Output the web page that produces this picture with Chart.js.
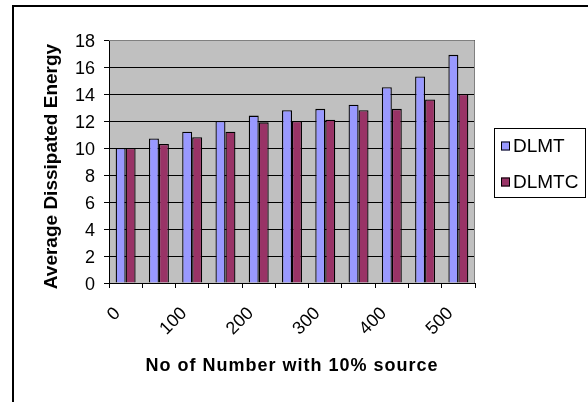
<!DOCTYPE html>
<html>
<head>
<meta charset="utf-8">
<script src="https://cdn.jsdelivr.net/npm/chart.js@4/dist/chart.umd.min.js"></script>
<style>
  html, body { margin: 0; padding: 0; background: #fff; }
  canvas { display: block; }
</style>
</head>
<body>
<canvas id="chart" width="588" height="402"></canvas>
<script>
// data
const categories = [0, 50, 100, 150, 200, 250, 300, 350, 400, 450, 500];
const dlmt = [10, 10.7, 11.2, 12, 12.4, 12.8, 12.9, 13.2, 14.5, 15.3, 16.9];
const dlmtc = [10, 10.3, 10.8, 11.2, 11.9, 12, 12.1, 12.8, 12.9, 13.6, 14];
const seriesNames = ["DLMT", "DLMTC"];
const yTicks = { min: 0, max: 18, step: 2 };

const FONT = "'Liberation Sans', Arial, sans-serif";

// outer frame, grey plot background, plot frame and the boxed legend on the right
const excelLook = {
  id: "excelLook",
  beforeDraw(chart) {
    const { ctx, chartArea: a } = chart;
    ctx.save();
    ctx.fillStyle = "#fff";
    ctx.fillRect(0, 0, chart.width, chart.height);
    ctx.fillStyle = "#000";
    ctx.fillRect(12, 5, 2, chart.height);
    ctx.fillRect(12, 5, chart.width - 12, 2);
    ctx.fillStyle = "#c0c0c0";
    ctx.fillRect(a.left, a.top, a.right - a.left, a.bottom - a.top);
    ctx.restore();
  },
  afterDraw(chart) {
    const { ctx, chartArea: a } = chart;
    ctx.save();
    ctx.strokeStyle = "#808080";
    ctx.lineWidth = 1;
    ctx.beginPath();
    ctx.moveTo(a.left, a.top + 0.5);
    ctx.lineTo(a.right - 0.5, a.top + 0.5);
    ctx.lineTo(a.right - 0.5, a.bottom);
    ctx.stroke();

    // legend
    const box = { x: 494, y: 128, w: 91, h: 69 };
    ctx.fillStyle = "#fff";
    ctx.fillRect(box.x, box.y, box.w, box.h);
    ctx.strokeStyle = "#000";
    ctx.strokeRect(box.x + 0.5, box.y + 0.5, box.w, box.h);
    ctx.font = "19px " + FONT;
    ctx.textBaseline = "middle";
    ctx.textAlign = "left";
    chart.data.datasets.forEach((ds, i) => {
      const cy = 146 + i * 36;
      ctx.fillStyle = ds.backgroundColor;
      ctx.fillRect(501, cy - 4.5, 9, 9);
      ctx.strokeStyle = "#000";
      ctx.strokeRect(501.5, cy - 4, 8, 8);
      ctx.fillStyle = "#000";
      ctx.fillText(ds.label, 513, cy + 1);
    });
    ctx.restore();
  }
};

const chart = new Chart(document.getElementById("chart"), {
  type: "bar",
  data: {
    labels: categories,
    datasets: [
      {
        label: seriesNames[0],
        data: dlmt,
        backgroundColor: "#9999ff",
        borderColor: "#000",
        borderWidth: 1.3,
        categoryPercentage: 0.6,
        barPercentage: 1.0,
      },
      {
        label: seriesNames[1],
        data: dlmtc,
        backgroundColor: "#993366",
        borderColor: "#000",
        borderWidth: 1.3,
        categoryPercentage: 0.6,
        barPercentage: 1.0,
      },
    ],
  },
  options: {
    responsive: false,
    animation: false,
    layout: { padding: { left: 0, right: 113, top: 40, bottom: 0 } },
    plugins: { legend: { display: false }, tooltip: { enabled: false } },
    scales: {
      x: {
        afterFit: (s) => { s.height = 119; },
        grid: { offset: true, drawOnChartArea: false, color: "#000", tickLength: 5 },
        border: { color: "#000", width: 1 },
        ticks: {
          autoSkip: false,
          minRotation: 45,
          maxRotation: 45,
          padding: 15,
          labelOffset: -8,
          color: "#000",
          font: { family: FONT, size: 18 },
          // only every other category is labelled
          callback: (v, i) => (i % 2 === 0 ? categories[i] : ""),
        },
        title: {
          display: true,
          text: "No of Number with 10% source",
          color: "#000",
          font: { family: FONT, size: 18, weight: "bold" },
          padding: { top: 0, bottom: 25 },
        },
      },
      y: {
        min: yTicks.min,
        max: yTicks.max,
        afterFit: (s) => { s.width = 109; },
        grid: { color: "#000", tickLength: 5 },
        border: { color: "#000", width: 1 },
        ticks: {
          stepSize: yTicks.step,
          padding: 9,
          labelOffset: 2,
          color: "#000",
          font: { family: FONT, size: 18 },
        },
        title: {
          display: true,
          text: "Average Dissipated Energy",
          color: "#000",
          font: { family: FONT, size: 19, weight: "bold" },
          padding: { top: 40, bottom: 0 },
        },
      },
    },
  },
  plugins: [excelLook],
});

// Excel spreads the axis titles a bit; nudge them the same way
const xs = chart.scales.x;
const xTitle = xs.drawTitle.bind(xs);
xs.drawTitle = function () {
  this.ctx.save();
  this.ctx.letterSpacing = "1px";
  xTitle();
  this.ctx.restore();
};
const ys = chart.scales.y;
const yTitle = ys.drawTitle.bind(ys);
ys.drawTitle = function () {
  this.ctx.save();
  this.ctx.translate(0, 5);
  yTitle();
  this.ctx.restore();
};
chart.draw();
</script>
</body>
</html>
